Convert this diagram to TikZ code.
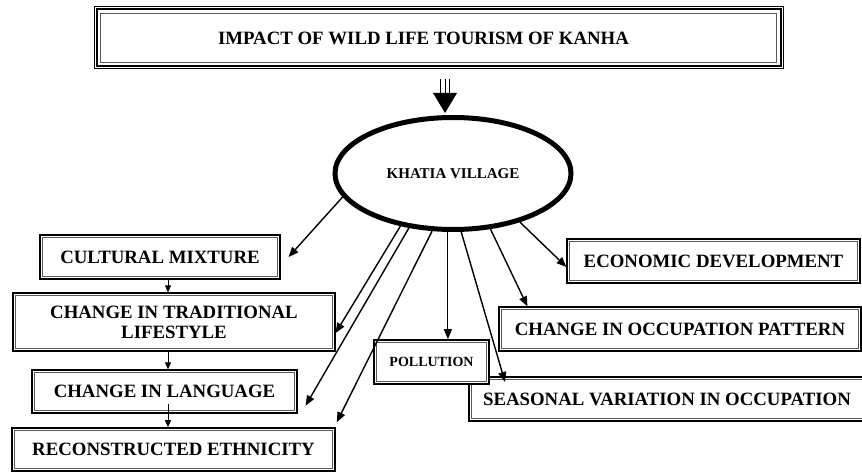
\documentclass[tikz,border=0pt]{standalone}
\usepackage{fontspec}
\setmainfont{Liberation Serif}
\usetikzlibrary{arrows.meta,calc,shapes.geometric}
\begin{document}
\begin{tikzpicture}[x=1pt,y=-1pt,
  lbl/.style={font=\bfseries\fontsize{18.8}{20}\selectfont},
  frame/.style={draw, line width=1.2pt, fill=white, inner sep=0pt, align=center, lbl},
  innerframe/.style={draw=black!65, line width=0.9pt},
  link/.style={line width=1.4pt, -{Triangle[length=10pt,width=8pt]}},
  flow/.style={line width=0.9pt, -{Triangle[length=7pt,width=6pt]}}]
\useasboundingbox (0,0) rectangle (862,473);

% heading with a triple frame
\node[frame, line width=1pt, minimum width=689pt, minimum height=62pt] (title) at (438.5,38)
  {IMPACT OF WILD LIFE TOURISM OF KANHA\hspace{30pt}};
\draw[line width=2pt] ([shift={(3pt,-3pt)}]title.north west) rectangle ([shift={(-3pt,3pt)}]title.south east);
\draw[innerframe] ([shift={(7pt,-7pt)}]title.north west) rectangle ([shift={(-7pt,7pt)}]title.south east);

% central village
\node[ellipse, draw, line width=5pt, minimum width=236pt, minimum height=112pt, inner sep=0pt,
  font=\bfseries\fontsize{15}{16}\selectfont] (village) at (453,173.5) {KHATIA VILLAGE};

% heading -> village: triple shaft with a large head
\coordinate (tip) at ([xshift=-8pt,yshift=2pt]village.north);
\fill (tip) -- ++(-12,-20) -- ++(24,0) -- cycle;
\foreach \dx in {-4.5,0,4.5}
  \draw[line width=1pt] ($(tip)+(\dx,-20)$) -- ++(0,-14);

% effects on the left
\node[frame, minimum width=240pt, minimum height=44pt] (cm) at (160,257) {CULTURAL MIXTURE};
\node[frame, minimum width=322pt, minimum height=58pt] (ctl) at (174,322) {CHANGE IN TRADITIONAL\\LIFESTYLE};
\node[frame, minimum width=265pt, minimum height=43pt] (cl) at (164.5,391.5) {CHANGE IN LANGUAGE};
\node[frame, line width=1.6pt, minimum width=323pt, minimum height=43pt] (re) at (173.5,449.5) {RECONSTRUCTED ETHNICITY};

% effects on the right
\node[frame, minimum width=293pt, minimum height=44pt] (ed) at (713.5,261) {ECONOMIC DEVELOPMENT};
\node[frame, minimum width=362pt, minimum height=44pt] (cop) at (680,329) {CHANGE IN OCCUPATION PATTERN};
\node[frame, line width=2pt, minimum width=396pt, minimum height=44pt] (sv) at (667,399) {SEASONAL VARIATION IN OCCUPATION};
\foreach \n in {cm,ctl,cl,re,ed,cop,sv}
  \draw[innerframe] ([shift={(3.5pt,-3.5pt)}]\n.north west) rectangle ([shift={(-3.5pt,3.5pt)}]\n.south east);

\node[frame, line width=1.6pt, minimum width=115pt, minimum height=44pt,
  font=\bfseries\fontsize{14}{16}\selectfont] (pol) at (431.5,362) {POLLUTION};
\draw[innerframe] ([shift={(3.5pt,-3.5pt)}]pol.north west) rectangle ([shift={(-3.5pt,3.5pt)}]pol.south east);

% village -> effects
\draw[link] (village.192) -- ([xshift=8pt]cm.east);
\draw[link] (village.225) -- ([yshift=-11pt]ctl.east);
\draw[link] (village.231) -- ([shift={(8pt,8pt)}]cl.south east);
\draw[link] (village.250) -- ([shift={(1pt,5pt)}]re.north east);
\draw[link, line width=1pt] (village.265) -- (village.265 |- pol.north);
\draw[link] (village.278) -- ([shift={(37pt,-6pt)}]sv.north west);
\draw[link] (village.304) -- ([xshift=29pt]cop.north west);
\draw[link] (village.324) -- ([yshift=-6pt]ed.west);

% chain down the left column
\coordinate (colx) at (168,0);
\draw[flow] (colx |- cm.south) -- (colx |- ctl.north);
\draw[flow] (colx |- ctl.south) -- (colx |- cl.north);
\draw[flow] ($(colx |- cl.south)+(0,-10)$) -- (colx |- re.north);
\end{tikzpicture}
\end{document}
